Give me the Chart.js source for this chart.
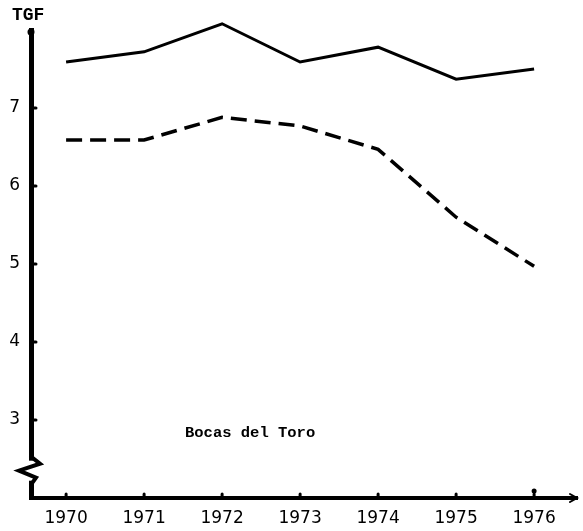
<!DOCTYPE html>
<html>
<head>
<meta charset="utf-8">
<script src="https://cdn.jsdelivr.net/npm/chart.js@4"></script>
<style>
  html, body { margin: 0; padding: 0; background: #fff; }
  #wrap { width: 583px; height: 531px; }
</style>
</head>
<body>
<div id="wrap"><canvas id="tgf"></canvas></div>
<script>
// TGF, Bocas del Toro, 1970-1976
const years = [1970, 1971, 1972, 1973, 1974, 1975, 1976];
const solidSeries = [7.59, 7.72, 8.08, 7.59, 7.78, 7.37, 7.5];
const dashedSeries = [6.59, 6.59, 6.88, 6.77, 6.47, 5.6, 4.97];
const yTicks = [3, 4, 5, 6, 7];
const xTicks = years;

const toPoints = vals => vals.map((v, i) => ({ x: years[i], y: v }));

// hand-drawn axis decorations: inward ticks, axis break, arrow, labels
const decorations = {
    id: 'decorations',
    afterDraw(chart) {
        const { ctx, chartArea, scales: { x, y } } = chart;
        ctx.save();
        ctx.strokeStyle = '#000';
        ctx.fillStyle = '#000';
        ctx.lineWidth = 3;
        ctx.lineCap = 'round';

        yTicks.forEach(v => {
            const py = y.getPixelForValue(v);
            ctx.beginPath();
            ctx.moveTo(chartArea.left, py);
            ctx.lineTo(chartArea.left + 5, py);
            ctx.stroke();
        });
        xTicks.forEach((v, i) => {
            const px = x.getPixelForValue(v);
            ctx.beginPath();
            ctx.moveTo(px, chartArea.bottom);
            ctx.lineTo(px, chartArea.bottom - 4);
            ctx.stroke();
            if (i === xTicks.length - 1) {
                ctx.beginPath();
                ctx.arc(px, chartArea.bottom - 7, 2.5, 0, Math.PI * 2);
                ctx.fill();
            }
        });

        // top knob of y axis
        ctx.beginPath();
        ctx.arc(chartArea.left, chartArea.top + 2, 3.5, 0, Math.PI * 2);
        ctx.fill();

        // axis break
        const bY = y.getPixelForValue(2.35);
        ctx.fillStyle = '#fff';
        ctx.fillRect(chartArea.left - 4, bY - 10, 8, 20);
        ctx.fillStyle = '#000';
        ctx.lineWidth = 4;
        ctx.beginPath();
        ctx.moveTo(chartArea.left, bY - 14);
        ctx.lineTo(chartArea.left + 9, bY - 7);
        ctx.lineTo(chartArea.left - 12, bY);
        ctx.lineTo(chartArea.left + 5, bY + 7);
        ctx.lineTo(chartArea.left, bY + 14);
        ctx.stroke();

        // arrow on x axis
        ctx.lineWidth = 2;
        ctx.beginPath();
        ctx.moveTo(chartArea.right - 7, chartArea.bottom - 4);
        ctx.lineTo(chartArea.right, chartArea.bottom);
        ctx.lineTo(chartArea.right - 7, chartArea.bottom + 4);
        ctx.stroke();

        ctx.font = 'bold 18px "Liberation Mono", monospace';
        ctx.textBaseline = 'middle';
        ctx.textAlign = 'left';
        ctx.fillText('TGF', 12, 15);

        ctx.font = 'bold 15.5px "Liberation Mono", monospace';
        ctx.fillText('Bocas del Toro', 185, y.getPixelForValue(2.83));
        ctx.restore();
    }
};

new Chart(document.getElementById('tgf'), {
    type: 'line',
    data: {
        datasets: [
            {
                label: 'solid',
                data: toPoints(solidSeries),
                borderColor: '#000',
                borderWidth: 3,
                pointRadius: 0,
                tension: 0,
                fill: false,
                clip: false
            },
            {
                label: 'dashed',
                data: toPoints(dashedSeries),
                borderColor: '#000',
                borderWidth: 3.5,
                borderDash: [16, 8],
                pointRadius: 0,
                tension: 0,
                fill: false,
                clip: false
            }
        ]
    },
    options: {
        responsive: true,
        maintainAspectRatio: false,
        animation: false,
        layout: { padding: { top: 30, right: 6, left: 0, bottom: 0 } },
        plugins: { legend: { display: false }, tooltip: { enabled: false } },
        scales: {
            x: {
                type: 'linear',
                min: 1969.55,
                max: 1976.55,
                afterBuildTicks: s => { s.ticks = xTicks.map(v => ({ value: v })); },
                afterFit: s => { s.height = 33; },
                grid: { display: false },
                border: { display: true, color: '#000', width: 4 },
                ticks: {
                    color: '#000',
                    padding: 2,
                    font: { family: '"DejaVu Sans", sans-serif', size: 17 },
                    callback: v => String(v)
                }
            },
            y: {
                min: 2,
                max: 8,
                afterBuildTicks: s => { s.ticks = yTicks.map(v => ({ value: v })); },
                afterFit: s => { s.width = 31; },
                grid: { display: false },
                border: { display: true, color: '#000', width: 5 },
                ticks: {
                    color: '#000',
                    padding: 3,
                    font: { family: '"DejaVu Sans", sans-serif', size: 17 }
                }
            }
        }
    },
    plugins: [decorations]
});
</script>
</body>
</html>
